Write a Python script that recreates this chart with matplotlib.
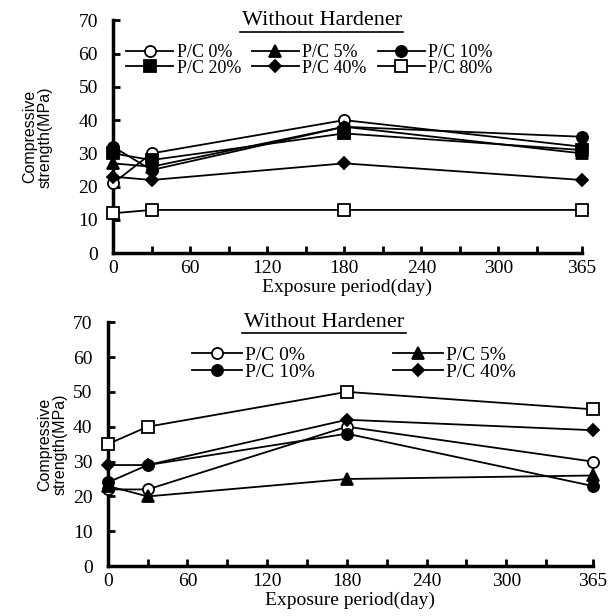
import matplotlib
matplotlib.use("Agg")
import matplotlib.pyplot as plt
from matplotlib.ticker import FixedLocator

# exposure days
days = [0, 30, 180, 365]

# upper panel series (MPa)
top_pc0 = [21, 30, 40, 32]
top_pc5 = [27, 26, 38, 30]
top_pc10 = [32, 25, 38, 35]
top_pc20 = [30, 28, 36, 31]
top_pc40 = [23, 22, 27, 22]
top_pc80 = [12, 13, 13, 13]

# lower panel series (MPa)
bot_pc0 = [22, 22, 40, 30]
bot_pc5 = [23, 20, 25, 26]
bot_pc10 = [24, 29, 38, 23]
bot_pc40 = [29, 29, 42, 39]
bot_sq = [35, 40, 50, 45]

title = "Without Hardener"
xlabel = "Exposure period(day)"
ylabel = "Compressive\nstrength(MPa)"
xticks_major = [0, 60, 120, 180, 240, 300, 365]
xticks_minor = [30, 90, 150, 210, 270, 330]

serif = "Liberation Serif"
sans = "Liberation Sans"

styles = {
    "P/C 0%": dict(marker="o", mfc="white"),
    "P/C 5%": dict(marker="^", mfc="black"),
    "P/C 10%": dict(marker="o", mfc="black"),
    "P/C 20%": dict(marker="s", mfc="black"),
    "P/C 40%": dict(marker="D", mfc="black", ms=6.5),
    "P/C 80%": dict(marker="s", mfc="white"),
}


def draw(ax, label, vals):
    kw = dict(color="black", lw=1.3, ms=8, mec="black", mew=1.3)
    kw.update(styles[label])
    return ax.plot(days, vals, label=label, clip_on=False, zorder=3, **kw)[0]


def style_axes(ax, ylab_x):
    ax.set_xlim(0, 365)
    ax.set_ylim(0, 70)
    ax.set_yticks(range(0, 71, 10))
    ax.xaxis.set_major_locator(FixedLocator(xticks_major))
    ax.xaxis.set_minor_locator(FixedLocator(xticks_minor))
    for s in ("top", "right"):
        ax.spines[s].set_visible(False)
    for s in ("left", "bottom"):
        ax.spines[s].set_linewidth(2.5)
    ax.tick_params(which="both", direction="in", width=2, length=5)
    ax.tick_params(axis="x", which="major", pad=5)
    ax.tick_params(axis="y", which="major", pad=11)
    for t in ax.get_xticklabels() + ax.get_yticklabels():
        t.set_fontfamily(serif)
        t.set_fontsize(14)
    ax.set_xlabel(xlabel, fontfamily=serif, fontsize=14, labelpad=1)
    ax.set_ylabel(ylabel, fontfamily=sans, fontsize=11.5, linespacing=1.1)
    ax.yaxis.set_label_coords(ylab_x, 0.5)


def add_title(ax, ul_x0, ul_x1, ul_y):
    ax.text(0.446, 1.0, title, transform=ax.transAxes, ha="center",
            va="center", fontfamily=serif, fontsize=16)
    ax.plot([ul_x0, ul_x1], [ul_y, ul_y], transform=ax.transAxes,
            color="black", lw=1.2, clip_on=False)


fig = plt.figure(figsize=(6.09, 6.16), dpi=100)

# upper panel
ax1 = fig.add_axes([0.1856, 0.589, 0.770, 0.378])
h = {}
for lab, v in [("P/C 0%", top_pc0), ("P/C 5%", top_pc5), ("P/C 10%", top_pc10),
               ("P/C 20%", top_pc20), ("P/C 40%", top_pc40), ("P/C 80%", top_pc80)]:
    h[lab] = draw(ax1, lab, v)
style_axes(ax1, -0.128)
order = ["P/C 0%", "P/C 20%", "P/C 5%", "P/C 40%", "P/C 10%", "P/C 80%"]
ax1.legend([h[k] for k in order], order, ncol=3, frameon=False,
           loc="center left", bbox_to_anchor=(0.028, 0.828), handlelength=2.6,
           handletextpad=0.2, columnspacing=0.6, labelspacing=-0.08,
           prop={"family": serif, "size": 13}, borderaxespad=0, borderpad=0)
add_title(ax1, 0.271, 0.618, 0.948)

# lower panel
ax2 = fig.add_axes([0.177, 0.081, 0.796, 0.396])
h2 = {}
for lab, v in [("P/C 0%", bot_pc0), ("P/C 5%", bot_pc5), ("P/C 10%", bot_pc10),
               ("P/C 40%", bot_pc40)]:
    h2[lab] = draw(ax2, lab, v)
draw(ax2, "P/C 80%", bot_sq)
style_axes(ax2, -0.082)
order2 = ["P/C 0%", "P/C 10%", "P/C 5%", "P/C 40%"]
ax2.legend([h2[k] for k in order2], order2, ncol=2, frameon=False,
           loc="center left", bbox_to_anchor=(0.173, 0.83), handlelength=2.6,
           handletextpad=0.15, columnspacing=4.0, labelspacing=-0.05,
           prop={"family": serif, "size": 14}, borderaxespad=0, borderpad=0)
add_title(ax2, 0.276, 0.616, 0.955)

fig.savefig("out.png", dpi=100)
